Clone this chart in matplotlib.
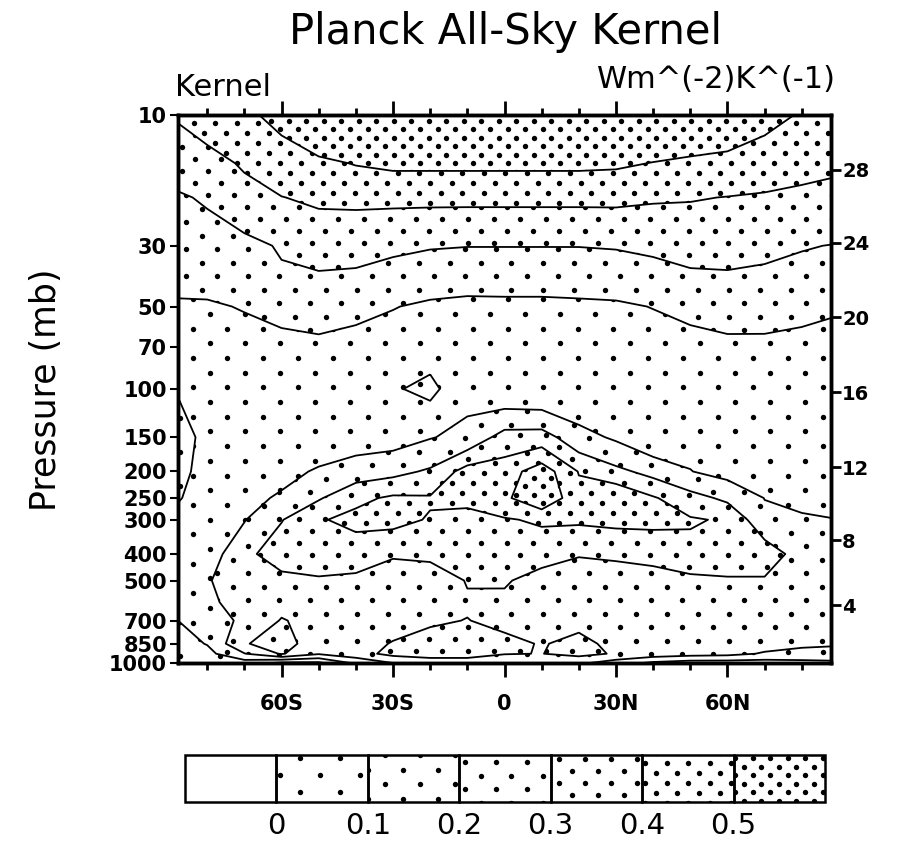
import numpy as np
import matplotlib.pyplot as plt
from matplotlib.patches import Rectangle
from matplotlib.ticker import NullLocator

plt.rcParams['font.family'] = 'DejaVu Sans'

# --- data: kernel (W m-2 K-1) on lat x pressure grid ---
lat = [-87.86, -80, -70, -60, -50, -40, -30, -20, -10, 0,
       10, 20, 30, 40, 50, 60, 70, 80, 87.86]
plev = [10, 15, 20, 30, 50, 70, 100, 150, 200, 250, 300,
        400, 500, 600, 700, 850, 925, 1000]

k10 = [0.41, 0.44, 0.48, 0.53, 0.60, 0.62, 0.62, 0.62, 0.62, 0.62, 0.62, 0.62, 0.62, 0.60, 0.60, 0.60, 0.53, 0.492, 0.46]
k15 = [0.34, 0.37, 0.41, 0.45, 0.48, 0.505, 0.52, 0.52, 0.52, 0.52, 0.52, 0.52, 0.515, 0.497, 0.48, 0.46, 0.45, 0.43, 0.42]
k20 = [0.29, 0.31, 0.37, 0.398, 0.415, 0.42, 0.42, 0.42, 0.42, 0.42, 0.42, 0.42, 0.42, 0.41, 0.405, 0.398, 0.39, 0.38, 0.37]
k30 = [0.25, 0.26, 0.27, 0.31, 0.34, 0.33, 0.317, 0.306, 0.302, 0.302, 0.302, 0.302, 0.306, 0.317, 0.34, 0.345, 0.32, 0.305, 0.298]
k50 = [0.19, 0.19, 0.205, 0.257, 0.227, 0.233, 0.204, 0.183, 0.173, 0.175, 0.175, 0.18, 0.185, 0.203, 0.211, 0.213, 0.24, 0.238, 0.215]
k70 = [0.16, 0.16, 0.165, 0.142, 0.186, 0.155, 0.151, 0.14, 0.14, 0.14, 0.14, 0.14, 0.14, 0.15, 0.185, 0.193, 0.178, 0.157, 0.156]
k100 = [0.105, 0.13, 0.15, 0.15, 0.15, 0.14, 0.11, 0.075, 0.172, 0.12, 0.11, 0.12, 0.13, 0.13, 0.14, 0.15, 0.16, 0.155, 0.155]
k150 = [0.07, 0.12, 0.15, 0.16, 0.16, 0.15, 0.16, 0.195, 0.226, 0.34, 0.345, 0.234, 0.186, 0.121, 0.17, 0.15, 0.16, 0.16, 0.16]
k200 = [0.08, 0.125, 0.16, 0.18, 0.2076, 0.25, 0.271, 0.314, 0.443, 0.45, 0.556, 0.395, 0.325, 0.268, 0.2026, 0.167, 0.17, 0.17, 0.17]
k250 = [0.095, 0.13, 0.18, 0.209, 0.29, 0.375, 0.416, 0.4096, 0.46, 0.48, 0.586, 0.432, 0.495, 0.41, 0.338, 0.278, 0.198, 0.19, 0.19]
k300 = [0.12, 0.14, 0.195, 0.295, 0.39, 0.43, 0.43, 0.392, 0.324, 0.391, 0.414, 0.415, 0.4225, 0.423, 0.41, 0.389, 0.223, 0.205, 0.201]
k400 = [0.13, 0.15, 0.27, 0.36, 0.36, 0.339, 0.31, 0.32, 0.315, 0.35, 0.338, 0.305, 0.3245, 0.337, 0.37, 0.36, 0.363, 0.25, 0.24]
k500 = [0.14, 0.19, 0.27, 0.265, 0.2877, 0.283, 0.25, 0.249, 0.305, 0.31, 0.262, 0.26, 0.2265, 0.251, 0.275, 0.2886, 0.288, 0.26, 0.25]
k600 = [0.12, 0.18, 0.24, 0.27, 0.27, 0.26, 0.24, 0.26, 0.2907, 0.281, 0.26, 0.26, 0.24, 0.24, 0.25, 0.26, 0.27, 0.26, 0.25]
k700 = [0.10, 0.15, 0.22, 0.306, 0.27, 0.26, 0.27, 0.29, 0.302, 0.28, 0.27, 0.28, 0.26, 0.25, 0.25, 0.26, 0.26, 0.25, 0.24]
k850 = [0.06, 0.105, 0.295, 0.33, 0.26, 0.27, 0.3046, 0.3275, 0.34, 0.32, 0.295, 0.32, 0.28, 0.26, 0.25, 0.25, 0.24, 0.21, 0.205]
k925 = [0.04, 0.07, 0.195, 0.31, 0.21, 0.26, 0.33, 0.34, 0.34, 0.305, 0.298, 0.33, 0.29, 0.26, 0.24, 0.23, 0.19, 0.185, 0.186]
k1000 = [0.02, 0.03, 0.05, -0.02, -0.02, 0.12, 0.2, 0.25, 0.25, 0.22, 0.26, 0.22, 0.15, 0.08, 0.05, 0.05, 0.05, 0.06, 0.07]

levels = [0, 0.1, 0.2, 0.3, 0.4, 0.5]
level_labels = ['0', '0.1', '0.2', '0.3', '0.4', '0.5']
p_ticks = [10, 30, 50, 70, 100, 150, 200, 250, 300, 400, 500, 700, 850, 1000]
lat_ticks = [-60, -30, 0, 30, 60]
lat_labels = ['60S', '30S', '0', '30N', '60N']
hgt_ticks = [4, 8, 12, 16, 20, 24, 28]

kernel = np.array([k10, k15, k20, k30, k50, k70, k100, k150, k200, k250,
                   k300, k400, k500, k600, k700, k850, k925, k1000])

# stipple spacing in pixels for each band (dots in a row, gap between rows)
stipple = [None, (40, 17), (35, 14.7), (31, 13.5), (26, 12), (21.5, 10), (17.5, 8.5)]

W, H, DPI = 908, 843, 100


def std_pres(z):
    # US standard atmosphere, height in km -> pressure in mb
    if z <= 11:
        return 1013.25 * (1 - 0.0065 * z * 1000 / 288.15) ** 5.2559
    if z <= 20:
        return 226.32 * np.exp(-(z - 11) / 6.3416)
    return 54.749 * (1 + (z - 20) / 216.65) ** -34.1632


def dots(target_ax, box, spacing, clip, transform=None):
    # lattice of dots anchored to the figure pixels, clipped to a region
    d, g = spacing
    x0, y0, x1, y1 = box
    xs, ys = [], []
    for r in np.arange(np.floor(y0 / g), np.ceil(y1 / g) + 1):
        off = (r % 2) * d / 2
        cols = np.arange(np.floor((x0 - off) / d), np.ceil((x1 - off) / d) + 1) * d + off
        xs.extend(cols)
        ys.extend([r * g] * len(cols))
    sc = target_ax.scatter(np.array(xs) / W, np.array(ys) / H, s=15, c='k',
                           linewidths=0, transform=fig.transFigure)
    if transform is None:
        sc.set_clip_path(clip)
    else:
        sc.set_clip_path(clip, transform)


fig = plt.figure(figsize=(W / DPI, H / DPI), dpi=DPI)
ax_box = (178, H - 663, 831, H - 115)
ax = fig.add_axes([ax_box[0] / W, ax_box[1] / H,
                   (ax_box[2] - ax_box[0]) / W, (ax_box[3] - ax_box[1]) / H])
ax.set_yscale('log')

cf = ax.contourf(lat, plev, kernel, levels=[-1] + levels + [1], colors='none')
for i, path in enumerate(cf.get_paths()):
    if stipple[i] is None or len(path.vertices) == 0:
        continue
    dots(ax, ax_box, stipple[i], path, ax.transData)

ax.contour(lat, plev, kernel, levels=levels, colors='k', linewidths=1.3)

ax.set_xlim(lat[0], lat[-1])
ax.set_ylim(1000, 10)
ax.set_yticks(p_ticks)
ax.set_yticklabels([str(p) for p in p_ticks])
ax.yaxis.set_minor_locator(NullLocator())
ax.set_xticks(lat_ticks)
ax.set_xticklabels(lat_labels)
ax.set_xticks(np.arange(-80, 81, 10), minor=True)
ax.tick_params(axis='x', which='both', top=True, direction='out', width=2)
ax.tick_params(axis='x', which='major', length=10, labelsize=15, pad=12)
ax.tick_params(axis='x', which='minor', length=5)
ax.tick_params(axis='y', which='major', direction='out', length=6, width=1.5,
               labelsize=15, pad=2)
for lab in ax.get_xticklabels() + ax.get_yticklabels():
    lab.set_fontweight('bold')
for s in ax.spines.values():
    s.set_linewidth(2.5)

ax2 = ax.twinx()
ax2.set_yscale('log')
ax2.set_ylim(1000, 10)
ax2.set_yticks([std_pres(z) for z in hgt_ticks])
ax2.set_yticklabels([str(z) for z in hgt_ticks])
ax2.yaxis.set_minor_locator(NullLocator())
ax2.tick_params(axis='y', direction='out', length=7, width=2, labelsize=14, pad=1)
for lab in ax2.get_yticklabels():
    lab.set_fontweight('bold')
for s in ax2.spines.values():
    s.set_linewidth(2.5)

fig.text(505 / W, 1 - 32 / H, 'Planck All-Sky Kernel', ha='center', va='center', fontsize=30)
fig.text(175 / W, 1 - 87 / H, 'Kernel', ha='left', va='center', fontsize=22)
fig.text(836 / W, 1 - 79 / H, 'Wm^(-2)K^(-1)', ha='right', va='center', fontsize=22)
fig.text(46 / W, 1 - 390 / H, 'Pressure (mb)', ha='center', va='center',
         rotation=90, fontsize=25)

# --- label bar ---
cb_box = (185, H - 802, 825, H - 755)
cax = fig.add_axes([cb_box[0] / W, cb_box[1] / H,
                    (cb_box[2] - cb_box[0]) / W, (cb_box[3] - cb_box[1]) / H])
cax.set_xlim(0, len(stipple))
cax.set_ylim(0, 1)
cax.axis('off')
for i, sp in enumerate(stipple):
    rect = Rectangle((i, 0), 1, 1, fill=False, ec='k', lw=1.8, clip_on=False)
    cax.add_patch(rect)
    if sp is not None:
        dots(cax, cb_box, sp, rect)
for i, lab in enumerate(level_labels):
    cax.text(i + 1, -0.68, lab, ha='center', va='baseline', fontsize=21)

fig.savefig('out.png', dpi=DPI)
